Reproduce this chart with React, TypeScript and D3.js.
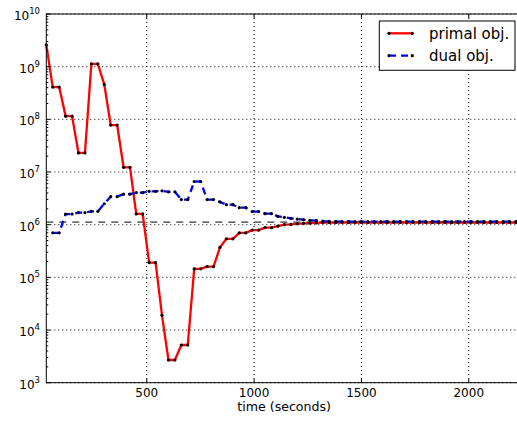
import React from 'react';
import * as d3 from 'd3';

const W = 517;
const H = 421;

const times = [32, 62, 92, 122, 152, 182, 212, 242, 272, 302, 332, 362, 392, 422, 451, 481, 511, 541, 571, 601,
  631, 661, 691, 721, 751, 781, 811, 841, 871, 901, 931, 961, 991, 1021, 1051, 1081, 1111, 1141, 1171, 1201,
  1230, 1260, 1290, 1320, 1350, 1380, 1410, 1440, 1470, 1500, 1530, 1560, 1590, 1620, 1650, 1680, 1710, 1740,
  1770, 1800, 1830, 1860, 1890, 1920, 1950, 1980, 2010, 2040, 2070, 2100, 2130, 2160, 2190, 2220, 2248];

const primalObj = [2.6e9, 4.1e8, 4.1e8, 1.15e8, 1.15e8, 2.3e7, 2.3e7, 1.13e9, 1.13e9, 4.6e8,
  7.8e7, 7.8e7, 1.23e7, 1.23e7, 1.6e6, 1.6e6, 1.9e5, 1.9e5, 1.9e4, 2.7e3,
  2.7e3, 5.2e3, 5.2e3, 1.45e5, 1.45e5, 1.6e5, 1.6e5, 3.7e5, 5.4e5, 5.4e5,
  7.0e5, 7.0e5, 7.9e5, 7.9e5, 8.8e5, 8.8e5, 9.4e5, 1.0e6, 1.01e6, 1.04e6,
  1.06e6, 1.07e6, 1.08e6, 1.09e6, 1.095e6, 1.1e6, 1.1e6, 1.1e6, 1.1e6, 1.1e6,
  1.1e6, 1.1e6, 1.1e6, 1.1e6, 1.1e6, 1.1e6, 1.1e6, 1.1e6, 1.1e6, 1.1e6,
  1.1e6, 1.1e6, 1.1e6, 1.1e6, 1.1e6, 1.1e6, 1.1e6, 1.1e6, 1.1e6, 1.1e6,
  1.1e6, 1.1e6, 1.1e6, 1.1e6, 1.1e6];

const dualObj: (number | null)[] = [null, 7.0e5, 7.0e5, 1.59e6, 1.59e6, 1.69e6, 1.69e6, 1.79e6, 1.79e6, 2.5e6,
  3.4e6, 3.4e6, 3.8e6, 3.8e6, 4.05e6, 4.05e6, 4.3e6, 4.3e6, 4.4e6, 4.2e6,
  4.2e6, 3.0e6, 3.0e6, 6.6e6, 6.6e6, 3.0e6, 3.0e6, 2.7e6, 2.4e6, 2.4e6,
  2.1e6, 2.1e6, 1.77e6, 1.77e6, 1.62e6, 1.62e6, 1.44e6, 1.38e6, 1.32e6, 1.28e6,
  1.24e6, 1.21e6, 1.19e6, 1.17e6, 1.16e6, 1.15e6, 1.145e6, 1.14e6, 1.14e6, 1.14e6,
  1.14e6, 1.14e6, 1.14e6, 1.14e6, 1.14e6, 1.14e6, 1.14e6, 1.14e6, 1.14e6, 1.14e6,
  1.14e6, 1.14e6, 1.14e6, 1.14e6, 1.14e6, 1.14e6, 1.14e6, 1.14e6, 1.14e6, 1.14e6,
  1.14e6, 1.14e6, 1.14e6, 1.14e6, 1.14e6];

const refValue = 1.12e6;
const xTicks = [500, 1000, 1500, 2000];
const yExponents = [3, 4, 5, 6, 7, 8, 9, 10];
const legendLabels = ['primal obj.', 'dual obj.'];
const xLabel = 'time (seconds)';

const FONT = 'DejaVu Sans, sans-serif';

export default function App() {
  const left = 46.3, right = 522, top = 14, bottom = 382.7;
  const x = d3.scaleLinear().domain([32, 2248]).range([left, right]);
  const y = d3.scaleLog().domain([1e3, 1e10]).range([bottom, top]);

  type P = [number, number | null];
  const line = d3.line<P>()
    .defined(d => d[1] != null)
    .x(d => x(d[0]))
    .y(d => y(d[1] as number));

  const primalPts: P[] = times.map((t, i) => [t, primalObj[i]]);
  const dualPts: P[] = times.map((t, i) => [t, dualObj[i]]);

  const minor: number[] = [];
  for (let k = 3; k < 10; k++) for (let m = 2; m <= 9; m++) minor.push(m * Math.pow(10, k));

  const legendRows = [
    { label: legendLabels[0], color: '#ff0000', dash: undefined as string | undefined },
    { label: legendLabels[1], color: '#0000ff', dash: '7,5' },
  ];

  return (
    <svg width={W} height={H} style={{ position: 'absolute', left: 0, top: 0, background: '#fff' }}
      fontFamily={FONT}>
      <rect x={0} y={0} width={W} height={H} fill="#fff" />
      {/* grid */}
      {xTicks.map(t => (
        <line key={'gx' + t} x1={x(t)} x2={x(t)} y1={top} y2={bottom} stroke="#000" strokeWidth={1} strokeDasharray="1,3" />
      ))}
      {yExponents.map(e => (
        <line key={'gy' + e} x1={left} x2={right} y1={y(Math.pow(10, e))} y2={y(Math.pow(10, e))} stroke="#000" strokeWidth={1} strokeDasharray="1,3" />
      ))}
      {/* reference line */}
      <line x1={left} x2={right} y1={y(refValue)} y2={y(refValue)} stroke="#000" strokeWidth={1} strokeDasharray="7,6" />
      {/* primal */}
      <path d={line(primalPts) || ''} fill="none" stroke="#ff0000" strokeWidth={2.3} strokeLinejoin="round" />
      {primalPts.map((d, i) => (
        <circle key={'pm' + i} cx={x(d[0])} cy={y(d[1] as number)} r={1.6} fill="#000" />
      ))}
      {/* dual */}
      <path d={line(dualPts) || ''} fill="none" stroke="#0000ff" strokeWidth={2.3} strokeDasharray="7,5" />
      {dualPts.filter(d => d[1] != null).map((d, i) => (
        <circle key={'dm' + i} cx={x(d[0])} cy={y(d[1] as number)} r={1.6} fill="#000" />
      ))}
      {/* spines */}
      <rect x={left} y={top} width={right - left} height={bottom - top} fill="none" stroke="#000" strokeWidth={1} />
      {/* ticks */}
      {xTicks.map(t => (
        <g key={'tx' + t}>
          <line x1={x(t)} x2={x(t)} y1={bottom} y2={bottom - 4} stroke="#000" />
          <line x1={x(t)} x2={x(t)} y1={top} y2={top + 4} stroke="#000" />
          <text x={x(t)} y={396.7} fontSize={12} textAnchor="middle" fill="#000">{t}</text>
        </g>
      ))}
      {yExponents.map(e => (
        <g key={'ty' + e}>
          <line x1={left} x2={left + 4} y1={y(Math.pow(10, e))} y2={y(Math.pow(10, e))} stroke="#000" />
          <text x={40} y={y(Math.pow(10, e)) + 6} fontSize={12} textAnchor="end" fill="#000">
            10<tspan dy={-6} fontSize={8.5}>{e}</tspan>
          </text>
        </g>
      ))}
      {minor.map(v => (
        <line key={'mn' + v} x1={left} x2={left + 2} y1={y(v)} y2={y(v)} stroke="#000" />
      ))}
      <text x={(left + right) / 2} y={410.7} fontSize={12.6} textAnchor="middle" fill="#000">{xLabel}</text>
      {/* legend */}
      <rect x={379.3} y={21} width={135.7} height={49.3} fill="#fff" stroke="#000" strokeWidth={1} />
      {legendRows.map((r, i) => {
        const ly = 33.3 + i * 22.4;
        return (
          <g key={'lg' + i}>
            <line x1={389} x2={412.3} y1={ly} y2={ly} stroke={r.color} strokeWidth={2.3} strokeDasharray={r.dash} />
            <circle cx={389} cy={ly} r={1.6} fill="#000" />
            <circle cx={412.3} cy={ly} r={1.6} fill="#000" />
            <text x={429} y={ly + 5.5} fontSize={15} fill="#000">{r.label}</text>
          </g>
        );
      })}
    </svg>
  );
}
